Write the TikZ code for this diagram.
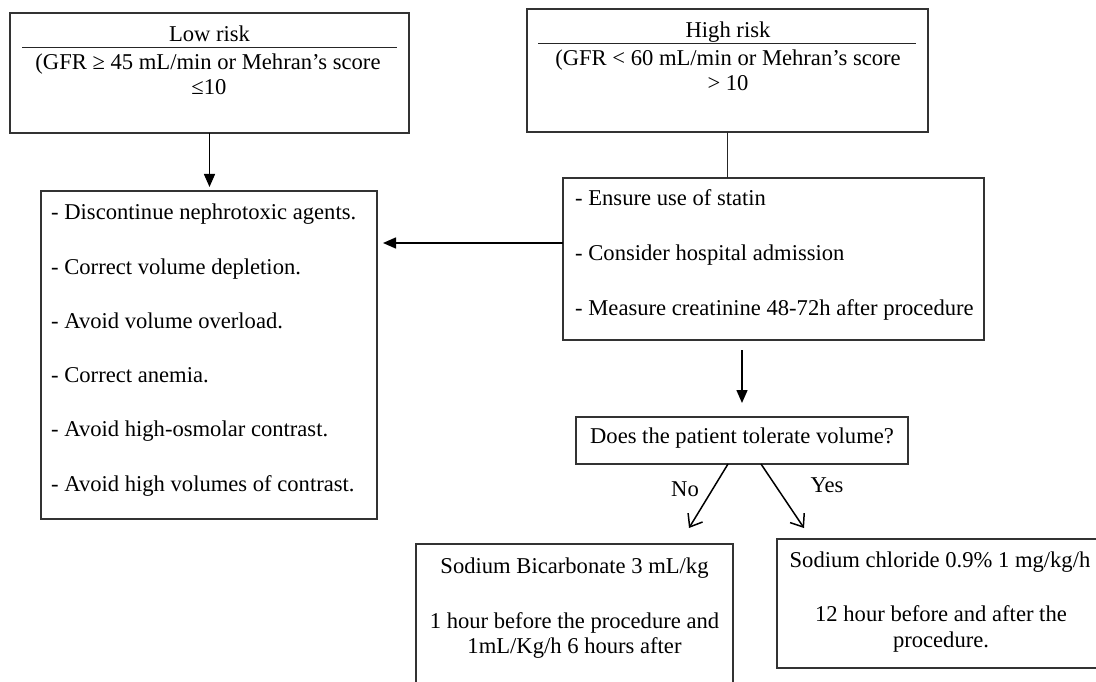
\documentclass[tikz,border=0pt]{standalone}
\usepackage{fontspec}
\setmainfont{Liberation Serif}
\usetikzlibrary{arrows.meta,calc}
\begin{document}
\begin{tikzpicture}[x=1pt,y=-1pt,
  box/.style={draw=black!80,line width=1.1pt,inner sep=0pt,outer sep=0pt},
  tl/.style={anchor=base west,inner sep=0pt,font=\fontsize{22.6}{25}\selectfont},
  tc/.style={anchor=base,inner sep=0pt,font=\fontsize{22.6}{25}\selectfont},
  rule/.style={draw=black!85,line width=1pt},
  arr/.style={draw=black,line width=1.5pt,-{Triangle[length=13pt,width=11pt]}},
  barb/.style={draw=black,line width=1.5pt,-{Straight Barb[length=11pt,width=17pt,line width=1.5pt]}},
  plain/.style={draw=black!85,line width=1.1pt}]
\useasboundingbox (0,0) rectangle (1096,682);
\clip (0,0) rectangle (1096,682);
% boxes
\node[box,minimum width=399pt,minimum height=120pt] (low) at (209.5,73) {};
\node[box,minimum width=401pt,minimum height=123pt] (high) at (727.5,70.5) {};
\node[box,minimum width=336pt,minimum height=328pt] (left) at (209,355) {};
\node[box,minimum width=421pt,minimum height=162pt] (right) at (773.5,259) {};
\node[box,minimum width=332pt,minimum height=47pt] (q) at (742,440.5) {};
\node[box,minimum width=317pt,minimum height=156pt] (bl) at (574.5,622) {};
\node[box,minimum width=333pt,minimum height=129pt] (br) at (943.5,603.5) {};
% low risk text
\node[tc] (lowt) at (209.5,42) {Low risk};
\coordinate (lowrA) at (22,48);
\coordinate (lowrB) at (397,48);
\draw[rule] (lowrA) -- (lowrB);
\node[tc] (lowa) at (208,70) {(GFR ≥ 45 mL/min or Mehran’s score};
\node[tc] (lowb) at (209,95) {≤10};
% high risk text
\node[tc] (hight) at (728,38) {High risk};
\coordinate (highrA) at (538,44);
\coordinate (highrB) at (916,44);
\draw[rule] (highrA) -- (highrB);
\node[tc] (higha) at (728,66) {(GFR < 60 mL/min or Mehran’s score};
\node[tc] (highb) at (728,91) {> 10};
% left list
\node[tl] (l1) at (51,219) {- Discontinue nephrotoxic agents.};
\node[tl] (l2) at (51,274) {- Correct volume depletion.};
\node[tl] (l3) at (51,328) {- Avoid volume overload.};
\node[tl] (l4) at (51,382) {- Correct anemia.};
\node[tl] (l5) at (51,436) {- Avoid high-osmolar contrast.};
\node[tl] (l6) at (51,491) {- Avoid high volumes of contrast.};
% right list
\node[tl] (r1) at (575,206) {- Ensure use of statin};
\node[tl] (r2) at (575,260) {- Consider hospital admission};
\node[tl] (r3) at (575,315) {- Measure creatinine 48-72h after procedure};
% question
\node[tc] (qt) at (742,443) {Does the patient tolerate volume?};
% bottom left
\node[tc] (bl1) at (574.5,573) {Sodium Bicarbonate 3 mL/kg};
\node[tc] (bl2) at (574.5,628) {1 hour before the procedure and};
\node[tc] (bl3) at (574.5,653) {1mL/Kg/h 6 hours after};
% bottom right
\node[tc] (br1) at (940,567) {Sodium chloride 0.9\% 1 mg/kg/h};
\node[tc] (br2) at (941,621) {12 hour before and after the};
\node[tc] (br3) at (941,647) {procedure.};
% labels
\node[tc,anchor=center] (no) at (685,489) {No};
\node[tc,anchor=center] (yes) at (827,485) {Yes};
% connectors
\draw[arr,shorten >=4pt] (low.south) -- (low.south |- left.north);
\draw[plain] (high.south) -- (high.south |- right.north);
\coordinate (ra) at (563,243);
\draw[arr,shorten >=6pt] (ra) -- (ra -| left.east);
\draw[arr,shorten <=10pt,shorten >=14pt] (q.north |- right.south) -- (q.north);
\coordinate (noS) at ($(q.south)+(-14,0)$);
\coordinate (noE) at (689,528);
\coordinate (yesS) at ($(q.south)+(19,0)$);
\coordinate (yesE) at (804,528);
\draw[barb] (noS) -- (noE);
\draw[barb] (yesS) -- (yesE);
\end{tikzpicture}
\end{document}
